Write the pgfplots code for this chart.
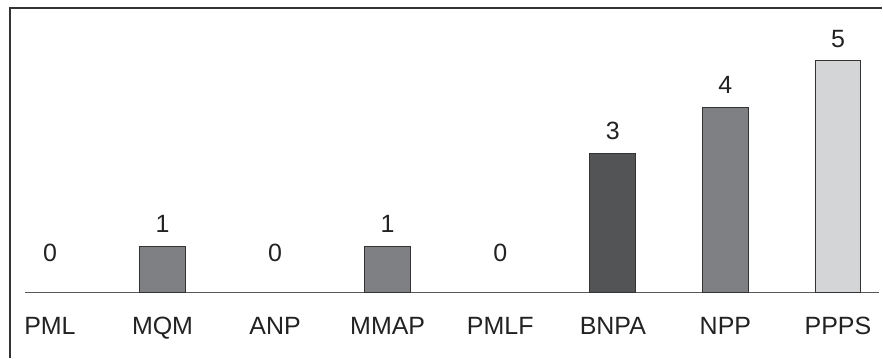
\documentclass[border=0pt]{standalone}
\usepackage{pgfplots}
\pgfplotsset{compat=1.18}
\usepackage{fontspec}
\setmainfont{Liberation Sans}
\definecolor{midgray}{HTML}{7F8083}
\definecolor{darkbar}{HTML}{535456}
\definecolor{lightbar}{HTML}{D4D5D6}
\definecolor{edge}{HTML}{333333}
\definecolor{txt}{HTML}{222222}
\begin{document}
\begin{tikzpicture}
\begin{axis}[
  /pgf/number format/assume math mode=true,
  scale only axis, width=441.5pt, height=179pt,
  xmin=-0.4437, xmax=7.391, ymin=-1.398, ymax=6.301,
  axis line style={draw=none},
  ytick=\empty,
  xtick={0,...,7},
  xticklabels={PML,MQM,ANP,MMAP,PMLF,BNPA,NPP,PPPS},
  major tick length=0pt,
  xticklabel style={anchor=base, yshift=11.5pt, inner sep=0pt, text=txt, font=\fontsize{12.5}{14}\selectfont},
  ybar, bar width=23pt, bar shift=0pt,
  nodes near coords,
  nodes near coords style={anchor=base, inner sep=0pt, yshift=6.8pt, text=txt, font=\fontsize{12.5}{14}\selectfont},
  clip=false,
]
\draw[color=black!65, line width=0.6pt] (axis cs:-0.222,0) -- (axis cs:7.36,0);
\draw[color=edge, line width=1pt] (axis cs:-0.355,-1.398) -- (axis cs:-0.355,6.123) -- (axis cs:7.391,6.123);
\addplot[draw=none, fill=none, nodes near coords style={yshift=9pt}] coordinates {(0,0) (2,0) (4,0)};
\addplot[draw=edge, line width=0.5pt, fill=midgray] coordinates {(1,1) (3,1) (6,4)};
\addplot[draw=edge, line width=0.5pt, fill=darkbar] coordinates {(5,3)};
\addplot[draw=edge, line width=0.5pt, fill=lightbar] coordinates {(7,5)};
\end{axis}
\end{tikzpicture}
\end{document}
